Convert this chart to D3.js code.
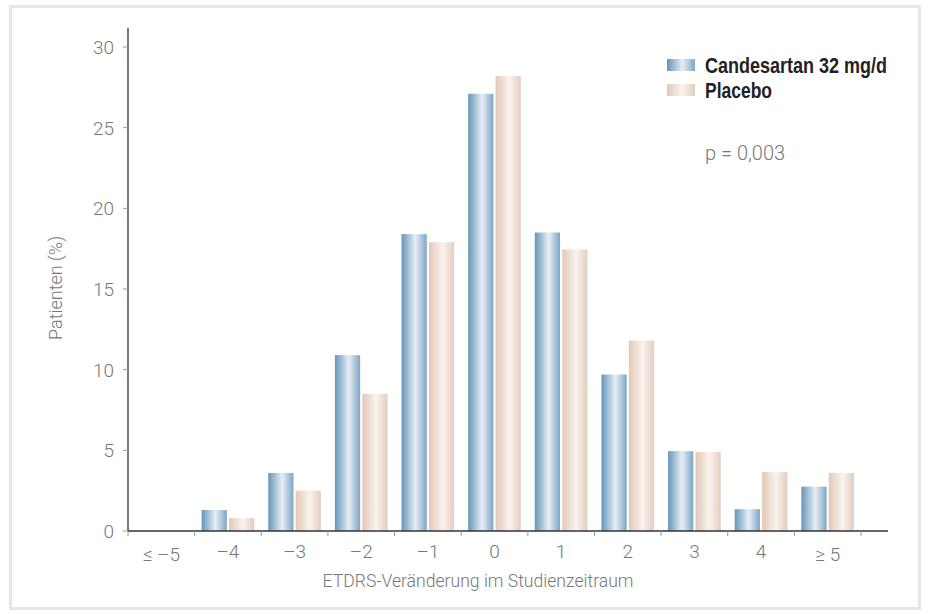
<!DOCTYPE html>
<html>
<head>
<meta charset="utf-8">
<script src="https://cdn.jsdelivr.net/npm/d3@7"></script>
<style>
  body { margin: 0; background: #fff; }
  text { font-family: "Roboto", "Liberation Sans", sans-serif; }
</style>
</head>
<body>
<div id="chart"></div>
<script>
const categories = ["≤ –5", "–4", "–3", "–2", "–1", "0", "1", "2", "3", "4", "≥ 5"];
const candesartan = [0, 1.3, 3.6, 10.9, 18.4, 27.1, 18.5, 9.7, 4.95, 1.35, 2.75];
const placebo = [0, 0.8, 2.5, 8.5, 17.9, 28.2, 17.45, 11.8, 4.9, 3.65, 3.6];
const yTicks = [0, 5, 10, 15, 20, 25, 30];
const seriesNames = ["Candesartan 32 mg/d", "Placebo"];

const W = 928, H = 614;
const margin = { top: 28, left: 128, bottom: 83 };
const plotRight = 861, axisEnd = 888;

const svg = d3.select("#chart").append("svg")
  .attr("width", W).attr("height", H);

// frame
svg.append("rect")
  .attr("x", 10.5).attr("y", 6.5)
  .attr("width", 909).attr("height", 602)
  .attr("fill", "none").attr("stroke", "#e6e6e6").attr("stroke-width", 3);

const defs = svg.append("defs");
function grad(id, stops) {
  const g = defs.append("linearGradient").attr("id", id)
    .attr("x1", "0%").attr("x2", "100%").attr("y1", "0%").attr("y2", "0%");
  stops.forEach(s => g.append("stop").attr("offset", s[0]).attr("stop-color", s[1]));
}
grad("gBlue", [["0%", "#6595ba"], ["55%", "#e8eef5"], ["100%", "#7da6c6"]]);
grad("gBeige", [["0%", "#e2c8b7"], ["55%", "#faf3ef"], ["100%", "#e4cdbe"]]);

const x = d3.scaleBand().domain(categories)
  .range([margin.left, plotRight]).paddingInner(0).paddingOuter(0);
const y = d3.scaleLinear().domain([0, 30]).range([531, 47]);

const sub = d3.scaleBand().domain(seriesNames)
  .range([7, x.bandwidth() - 7]).paddingInner(0.08);

const data = categories.map((c, i) => ({ cat: c, vals: [candesartan[i], placebo[i]] }));

const fills = ["url(#gBlue)", "url(#gBeige)"];
svg.append("g").selectAll("g").data(data).join("g")
  .attr("transform", d => `translate(${x(d.cat)},0)`)
  .selectAll("rect")
  .data(d => d.vals.map((v, j) => ({ v, j })))
  .join("rect")
  .attr("x", d => sub(seriesNames[d.j]))
  .attr("width", sub.bandwidth())
  .attr("y", d => y(d.v))
  .attr("height", d => y(0) - y(d.v))
  .attr("fill", d => fills[d.j]);

// y axis
const yAxis = svg.append("g");
yAxis.append("line")
  .attr("x1", margin.left).attr("x2", margin.left)
  .attr("y1", margin.top).attr("y2", y(0))
  .attr("stroke", "#333").attr("stroke-width", 1.3);
yAxis.selectAll("g").data(yTicks).join("g")
  .attr("transform", d => `translate(0,${y(d)})`)
  .call(g => g.append("line").attr("x1", margin.left - 5).attr("x2", margin.left)
    .attr("stroke", "#999"))
  .call(g => g.append("text").attr("x", margin.left - 14).attr("dy", "0.36em")
    .attr("text-anchor", "end").attr("fill", "#777")
    .style("font-size", "19px").style("font-weight", 300).text(d => d));

// x axis
const xAxis = svg.append("g");
xAxis.append("line")
  .attr("x1", margin.left).attr("x2", axisEnd)
  .attr("y1", y(0)).attr("y2", y(0))
  .attr("stroke", "#333").attr("stroke-width", 1.3);
const bounds = categories.map(c => x(c)).concat([plotRight]);
xAxis.selectAll("line.tick").data(bounds).join("line")
  .attr("class", "tick")
  .attr("x1", d => d).attr("x2", d => d)
  .attr("y1", y(0)).attr("y2", y(0) + 5)
  .attr("stroke", "#999");
xAxis.selectAll("text").data(categories).join("text")
  .attr("x", d => x(d) + x.bandwidth() / 2)
  .attr("y", (d, i) => (i === 0 || i === categories.length - 1) ? 561 : 558)
  .attr("text-anchor", "middle").attr("fill", "#777")
  .style("font-size", "19px").style("font-weight", 300).text(d => d);

// axis titles
svg.append("text")
  .attr("transform", "translate(62,288) rotate(-90)")
  .attr("text-anchor", "middle").attr("fill", "#777")
  .style("font-size", "18px").style("font-weight", 300)
  .text("Patienten (%)");
svg.append("text")
  .attr("x", 478).attr("y", 587)
  .attr("text-anchor", "middle").attr("fill", "#777")
  .style("font-size", "17.6px").style("font-weight", 300)
  .text("ETDRS-Veränderung im Studienzeitraum");

// legend
const legendWidths = [182, 67];
const legend = svg.append("g").attr("transform", "translate(667,58)");
legend.selectAll("g").data(seriesNames).join("g")
  .attr("transform", (d, i) => `translate(0,${i * 25})`)
  .each(function (d, i) {
    const g = d3.select(this);
    g.append("rect").attr("width", 28).attr("height", 12).attr("y", 1)
      .attr("fill", fills[i]);
    g.append("text").attr("x", 38).attr("y", 14.5)
      .attr("fill", "#222")
      .attr("textLength", legendWidths[i])
      .attr("lengthAdjust", "spacingAndGlyphs")
      .style("font-family", "'Liberation Sans', sans-serif")
      .style("font-weight", "bold").style("font-size", "21.5px")
      .text(d);
  });

svg.append("text")
  .attr("x", 705).attr("y", 160)
  .attr("fill", "#777")
  .style("font-size", "20px").style("font-weight", 300)
  .text("p = 0,003");
</script>
</body>
</html>
